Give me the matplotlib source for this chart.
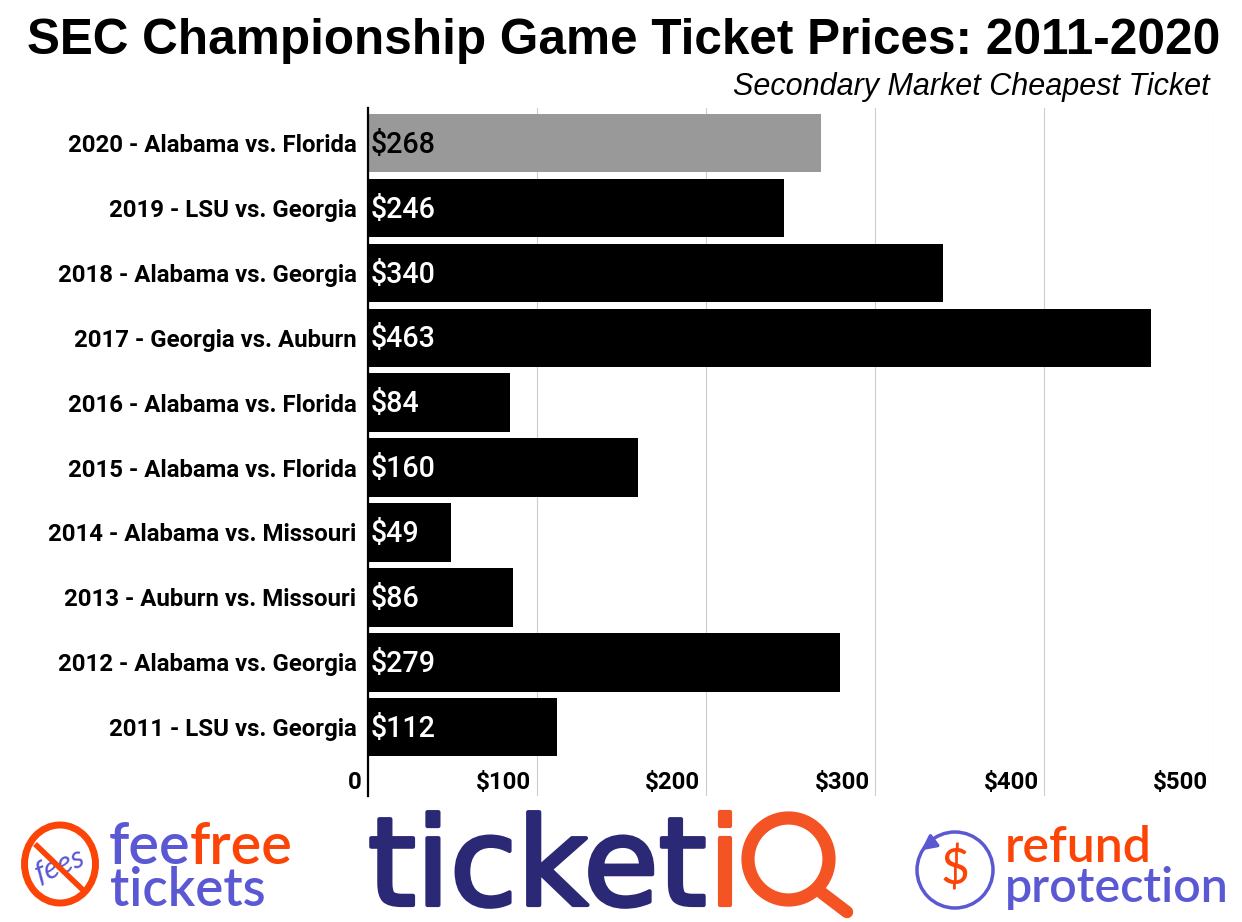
import matplotlib
matplotlib.use("Agg")
import matplotlib.pyplot as plt
import matplotlib.patheffects as pe
from matplotlib.patches import Ellipse, FancyArrowPatch

W, H = 1242, 922
NAVY = "#2b2875"
ORANGE = "#f45323"
RED = "#fb4406"
BLUE = "#5a58d2"

games = ["2020 - Alabama vs. Florida", "2019 - LSU vs. Georgia", "2018 - Alabama vs. Georgia",
         "2017 - Georgia vs. Auburn", "2016 - Alabama vs. Florida", "2015 - Alabama vs. Florida",
         "2014 - Alabama vs. Missouri", "2013 - Auburn vs. Missouri", "2012 - Alabama vs. Georgia",
         "2011 - LSU vs. Georgia"]
prices = [268, 246, 340, 463, 84, 160, 49, 86, 279, 112]
bar_colors = ["#999999"] + ["#000000"] * 9
label_colors = ["#000000"] + ["#ffffff"] * 9
xticks = [0, 100, 200, 300, 400, 500]
xlabels = ["0", "$100", "$200", "$300", "$400", "$500"]

fig = plt.figure(figsize=(W / 100, H / 100), dpi=100)

# plot area in pixels: x 367-1214, y 108-796
ax = fig.add_axes([367.6 / W, 1 - 796 / H, 846 / W, (796 - 108) / H])
ax.set_xlim(0, 500)
ax.set_ylim(10.06, -0.54)
ax.barh(range(len(games)), prices, height=0.9, color=bar_colors, zorder=3)
ax.grid(axis="x", color="#cccccc", linewidth=0.8, zorder=0)
ax.set_axisbelow(True)
for s in ["top", "right", "bottom"]:
    ax.spines[s].set_visible(False)
ax.spines["left"].set_linewidth(1.6)
ax.spines["left"].set_color("black")
ax.spines["left"].set_zorder(5)
ax.set_yticks(range(len(games)))
ax.set_yticklabels(games, family="Roboto", weight="bold", fontsize=17.3)
ax.tick_params(axis="y", length=0, pad=8)
ax.set_xticks(xticks)
ax.set_xticklabels([])
ax.tick_params(axis="x", length=0)

for i, p in enumerate(prices):
    ax.text(1.5, i - 0.02, f"${p}", color=label_colors[i], family="Roboto", weight="medium",
            fontsize=20.6, va="center_baseline", ha="left", zorder=6)

# everything below is placed in pixel coords of the picture
ov = fig.add_axes([0, 0, 1, 1], zorder=10)
ov.set_xlim(0, W)
ov.set_ylim(H, 0)
ov.axis("off")
ov.patch.set_alpha(0)

for t, lab in zip(xticks, xlabels):
    ov.text(367 + t * 847 / 500 - 5.5, 782, lab, family="Roboto", weight="bold", fontsize=17.3,
            ha="right", va="center")

ov.text(623.5, 41, "SEC Championship Game Ticket Prices: 2011-2020", family="Liberation Sans",
        weight="bold", fontsize=35.65, ha="center", va="center")
ov.text(1210, 87, "Secondary Market Cheapest Ticket", family="Liberation Sans", style="italic",
        fontsize=22, ha="right", va="center")

# fee free tickets badge
ov.add_patch(Ellipse((60, 864), 71, 78, fill=False, ec=RED, lw=5))
ov.plot([35, 85], [844, 892], color=RED, lw=4, solid_capstyle="butt")
ov.text(60, 865, "fees", family="Lato", style="italic", color=BLUE, fontsize=22,
        rotation=22, ha="center", va="center", zorder=1)
ov.text(109, 847, "fee", family="Lato", weight="semibold", color=BLUE, fontsize=41.5, ha="left", va="center")
ov.text(190, 847, "free", family="Lato", weight="semibold", color=RED, fontsize=41.5, ha="left", va="center")
ov.text(110, 890, "tickets", family="Lato", weight="semibold", color=BLUE, fontsize=38, ha="left", va="center")

# ticketiQ wordmark, regular weight thickened with a stroke
thick = [pe.withStroke(linewidth=3, foreground=NAVY)]
ov.text(368, 905, "ticket", family="DejaVu Sans", color=NAVY, fontsize=88, ha="left", va="baseline",
        path_effects=thick)
ov.text(708, 905, "i", family="DejaVu Sans", color=ORANGE, fontsize=88, ha="left", va="baseline",
        path_effects=[pe.withStroke(linewidth=3, foreground=ORANGE)])
ov.add_patch(Ellipse((788.5, 859), 81, 82, fill=False, ec=ORANGE, lw=9.5))
ov.plot([822, 847], [893, 912], color=ORANGE, lw=9, solid_capstyle="round")

# refund protection badge
ov.add_patch(Ellipse((955, 870), 76, 76, fill=False, ec=BLUE, lw=2.5))
ov.add_patch(FancyArrowPatch((935, 840), (919, 852), arrowstyle="-|>", mutation_scale=22, color=BLUE, lw=2.5))
ov.text(955, 870, "$", family="Lato", color=RED, fontsize=36, ha="center", va="center")
ov.text(1005, 847, "refund", family="Lato", weight="semibold", color=RED, fontsize=36, ha="left", va="center")
ov.text(1005, 888, "protection", family="Lato", weight="semibold", color=BLUE, fontsize=34.8, ha="left", va="center")

fig.savefig("out.png", dpi=100)
